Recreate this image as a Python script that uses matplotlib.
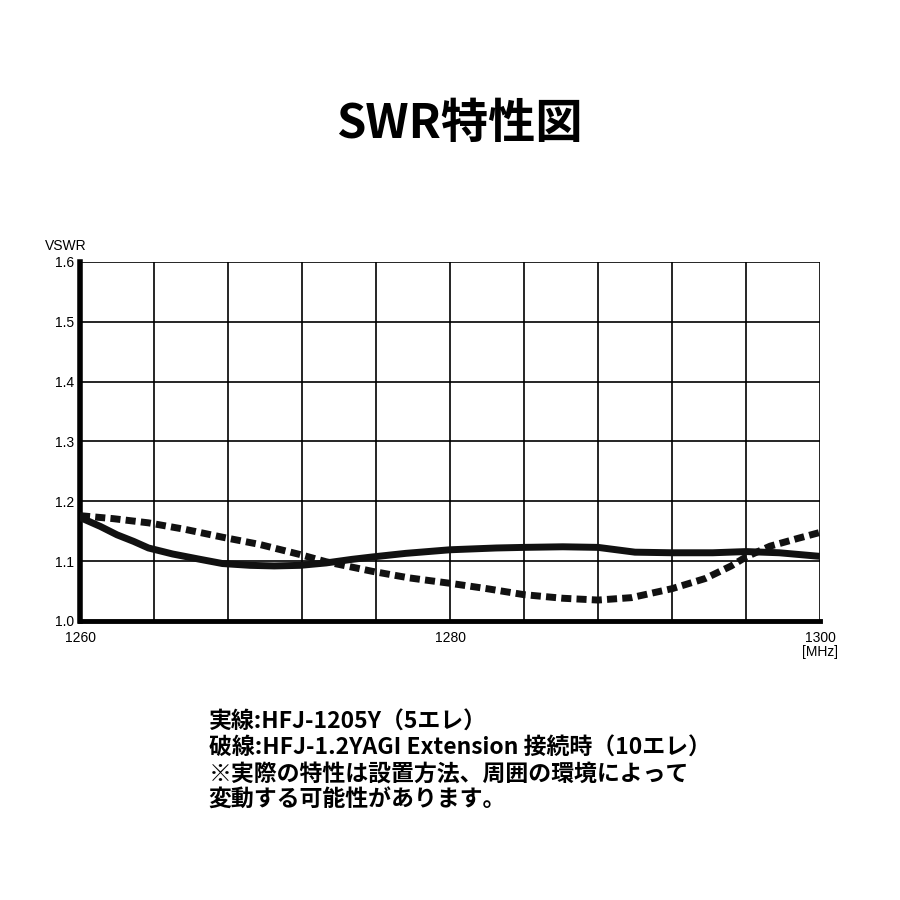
import numpy as np
import matplotlib
matplotlib.use("Agg")
import matplotlib.pyplot as plt

plt.rcParams['font.family'] = ['Noto Sans CJK JP', 'DejaVu Sans']

# 実線 HFJ-1205Y (MHz, VSWR)
freq_solid = [1260, 1261.1, 1262, 1262.9, 1263.7, 1265, 1266.5, 1267.7, 1269.2, 1270.5,
              1271.9, 1273.3, 1274.7, 1275.8, 1277.6, 1280, 1282.5, 1284, 1286.1, 1288,
              1289, 1290, 1292, 1294.2, 1296, 1297.8, 1300]
vswr_solid = [1.173, 1.158, 1.144, 1.133, 1.122, 1.112, 1.103, 1.096, 1.093, 1.092,
              1.093, 1.097, 1.103, 1.107, 1.113, 1.119, 1.122, 1.123, 1.124, 1.123,
              1.119, 1.115, 1.114, 1.114, 1.116, 1.114, 1.108]

# 破線 HFJ-1.2YAGI Extension 接続時
freq_dash = [1260, 1261.8, 1263.7, 1265.7, 1267.7, 1269.7, 1271.9, 1273.3, 1275.8, 1277.8,
             1280, 1282, 1284, 1286.1, 1288, 1289.8, 1292, 1293.8, 1295.2, 1296,
             1297.3, 1298.8, 1300]
vswr_dash = [1.176, 1.171, 1.164, 1.153, 1.140, 1.128, 1.111, 1.099, 1.083, 1.072,
             1.063, 1.054, 1.044, 1.038, 1.035, 1.039, 1.054, 1.071, 1.092, 1.107,
             1.125, 1.138, 1.148]

yticks = [1.0, 1.1, 1.2, 1.3, 1.4, 1.5, 1.6]
xticks = [1260, 1280, 1300]

notes = ["実線:HFJ-1205Y（5エレ）",
         "破線:HFJ-1.2YAGI Extension 接続時（10エレ）",
         "※実際の特性は設置方法、周囲の環境によって",
         "変動する可能性があります。"]

fig = plt.figure(figsize=(9, 9), dpi=100)
fig.text(0.51, 0.862, "SWR特性図", ha='center', va='center', fontsize=34, fontweight='bold')

ax = fig.add_axes([0.0889, 0.31, 0.8222, 0.399])
ax.set_xlim(1260, 1300)
ax.set_ylim(1.0, 1.6)

# グリッド
for xv in np.arange(1264, 1301, 4):
    ax.axvline(xv, color='black', lw=1.2, zorder=1)
for yv in yticks[1:]:
    ax.axhline(yv, color='black', lw=1.2, zorder=1)

ax.plot(freq_solid, vswr_solid, color='#111111', lw=5, solid_joinstyle='round',
        solid_capstyle='butt', zorder=3)
ax.plot(freq_dash, vswr_dash, color='#111111', lw=5, dashes=(1.45, 0.75), zorder=3)

for s in ['top', 'right']:
    ax.spines[s].set_visible(False)
ax.spines['left'].set_linewidth(4)
ax.spines['bottom'].set_linewidth(3.5)

ax.set_yticks(yticks)
ax.set_yticklabels([f"{v:.1f}" for v in yticks], family='Liberation Sans', fontsize=10)
ax.set_xticks(xticks)
ax.set_xticklabels([str(v) for v in xticks], family='Liberation Sans', fontsize=10)
ax.tick_params(axis='y', length=0, pad=4)
ax.tick_params(axis='x', length=0, pad=7)
ax.text(-0.048, 1.045, "VSWR", transform=ax.transAxes, family='Liberation Sans', fontsize=10,
        ha='left', va='center')
ax.text(1.0, -0.087, "[MHz]", transform=ax.transAxes, family='Liberation Sans', fontsize=10,
        ha='center', va='center')

for i, line in enumerate(notes):
    fig.text(0.232, 0.197 - i * 0.0288, line, ha='left', va='center', fontsize=16.5,
             fontweight='bold')

fig.savefig("out.png", dpi=100, facecolor='white')
